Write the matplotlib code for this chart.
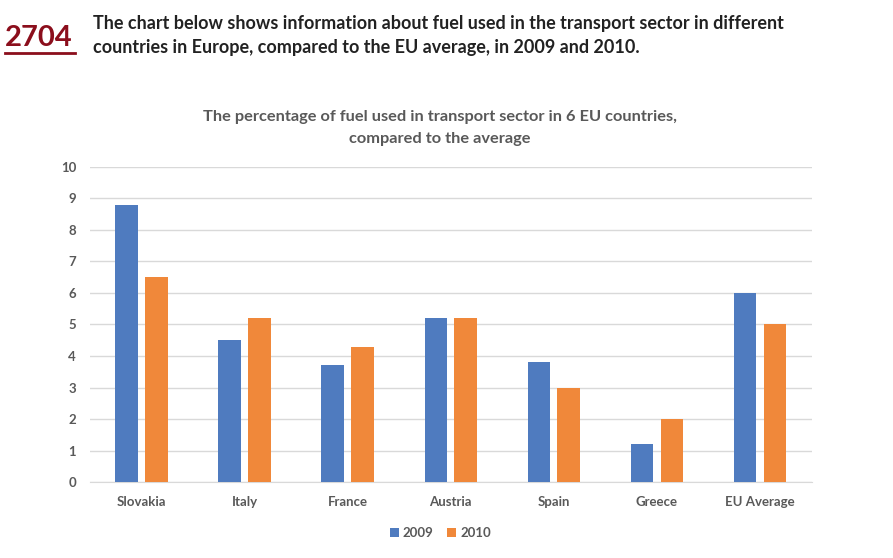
import numpy as np
import matplotlib
matplotlib.use("Agg")
import matplotlib.pyplot as plt

plt.rcParams['font.family'] = ['Lato', 'DejaVu Sans']

# data
countries = ["Slovakia", "Italy", "France", "Austria", "Spain", "Greece", "EU Average"]
fuel_2009 = [8.8, 4.5, 3.7, 5.2, 3.8, 1.2, 6.0]
fuel_2010 = [6.5, 5.2, 4.3, 5.2, 3.0, 2.0, 5.0]
years = ["2009", "2010"]

blue = "#4F7BBF"
orange = "#F0883A"
grey = "#595959"

fig = plt.figure(figsize=(8.93, 5.58), dpi=100)

# header
fig.text(0.006, 0.932, "2704", fontsize=21, fontweight="bold", color="#8B0E1C",
         va="center", ha="left")
fig.add_artist(plt.Line2D([0.006, 0.084], [0.905, 0.905], color="#8B0E1C", lw=2))
fig.text(0.104, 0.958, "The chart below shows information about fuel used in the transport sector in different",
         fontsize=13, fontweight="bold", color="#222222", va="center")
fig.text(0.104, 0.914, "countries in Europe, compared to the EU average, in 2009 and 2010.",
         fontsize=13, fontweight="bold", color="#222222", va="center")

ax = fig.add_axes([0.1008, 0.136, 0.808, 0.565])
x = np.arange(len(countries))
w = 0.22
ax.bar(x - 0.145, fuel_2009, w, color=blue, label=years[0], zorder=3)
ax.bar(x + 0.145, fuel_2010, w, color=orange, label=years[1], zorder=3)

ax.set_xlim(-0.5, len(countries) - 0.5)
ax.set_ylim(0, 10)
ax.set_yticks(range(0, 11))
ax.set_xticks(x)
ax.set_xticklabels(countries)
ax.grid(axis="y", color="#D9D9D9", lw=1, zorder=0)
for s in ["top", "right", "left"]:
    ax.spines[s].set_visible(False)
ax.spines["bottom"].set_color("#D9D9D9")
ax.tick_params(length=0, labelsize=9.5, labelcolor=grey, pad=10)
ax.tick_params(axis="y", pad=10)
for lab in ax.get_xticklabels() + ax.get_yticklabels():
    lab.set_fontweight("bold")

fig.text(0.493, 0.771, "The percentage of fuel used in transport sector in 6 EU countries,\ncompared to the average",
         ha="center", va="center", fontsize=11.8, fontweight="bold", color=grey, linespacing=1.75)

fig.legend(loc="center", bbox_to_anchor=(0.493, 0.044), ncol=2, frameon=False,
           handlelength=0.7, handleheight=0.7, handletextpad=0.3,
           columnspacing=1.0, prop={"weight": "bold", "size": 9.5}, labelcolor=grey)

plt.savefig("out.png", dpi=100)
